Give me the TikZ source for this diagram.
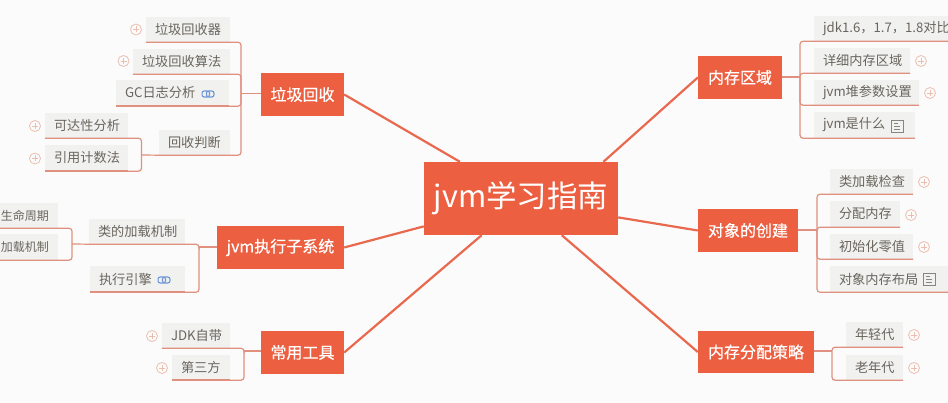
\documentclass[tikz,border=0pt]{standalone}
\usepackage{fontspec}
\setmainfont{Noto Sans CJK SC}
\newfontfamily\limbfont[FakeBold=0.5]{Noto Sans CJK SC}
\definecolor{paper}{HTML}{FBFBFB}
\definecolor{hot}{HTML}{EC5F40}
\definecolor{limb}{HTML}{E9694F}
\definecolor{twigc}{HTML}{E0907E}
\definecolor{leaff}{HTML}{F1F1F0}
\definecolor{inkc}{HTML}{6A665E}
\definecolor{plusc}{HTML}{EBBFAF}
\definecolor{linkc}{HTML}{6F97D8}
\tikzset{
  x=1pt,y=-1pt,
  rootbox/.style={fill=hot,text=white,font=\fontsize{30.5}{32}\selectfont,inner sep=0pt,minimum width=194pt,minimum height=73pt},
  limbbox/.style={fill=hot,text=white,font=\limbfont\fontsize{16}{18}\selectfont,inner sep=0pt},
  leafbox/.style={fill=leaff,text=inkc,font=\fontsize{13.2}{15}\selectfont,inner sep=0pt,align=left},
  limbline/.style={draw=limb,line width=2.2pt},
  twig/.style={draw=twigc,line width=1.2pt,rounded corners=3pt},
  twigthick/.style={twig,line width=1.8pt},
  plusmark/.style={circle,draw=plusc,line width=.8pt,inner sep=0pt,minimum size=11pt,
    path picture={\draw[plusc,line width=.7pt] ([xshift=-3pt]path picture bounding box.center) -- ([xshift=3pt]path picture bounding box.center);
      \draw[plusc,line width=.7pt] ([yshift=-3pt]path picture bounding box.center) -- ([yshift=3pt]path picture bounding box.center);}},
  linkmark/.style={inner sep=0pt,minimum width=13pt,minimum height=8pt,
    path picture={\draw[linkc,line width=1.1pt,rounded corners=2.2pt] ([xshift=-6pt,yshift=-3pt]path picture bounding box.center) rectangle ([xshift=1.5pt,yshift=3pt]path picture bounding box.center);
      \draw[linkc,line width=1.1pt,rounded corners=2.2pt] ([xshift=-1.5pt,yshift=-3pt]path picture bounding box.center) rectangle ([xshift=6pt,yshift=3pt]path picture bounding box.center);}},
  docmark/.style={draw=inkc!80,line width=.9pt,inner sep=0pt,minimum size=12pt,
    path picture={\draw[inkc!80,line width=.8pt] ([xshift=-3pt,yshift=3pt]path picture bounding box.center) -- ([xshift=1pt,yshift=3pt]path picture bounding box.center);
      \draw[inkc!80,line width=.8pt] ([xshift=-3pt]path picture bounding box.center) -- ([xshift=3pt]path picture bounding box.center);
      \draw[inkc!80,line width=.8pt] ([xshift=-3pt,yshift=-3pt]path picture bounding box.center) -- ([xshift=3pt,yshift=-3pt]path picture bounding box.center);}}
}
% #1 extra keys, #2 name, #3 x1, #4 y1, #5 x2, #6 y2, #7 text
\newcommand{\leafnode}[7][]{%
  \pgfmathsetmacro{\lw}{#5-#3}\pgfmathsetmacro{\lh}{#6-#4}\pgfmathsetmacro{\tw}{#5-#3-18}%
  \pgfmathsetmacro{\lcx}{(#5+#3)/2}\pgfmathsetmacro{\lcy}{(#6+#4)/2}%
  \node[leafbox,minimum width=\lw pt,minimum height=\lh pt,text width=\tw pt,#1] (#2) at (\lcx,\lcy) {#7};}
\newcommand{\limbnode}[6]{%
  \pgfmathsetmacro{\lw}{#4-#2}\pgfmathsetmacro{\lh}{#5-#3}%
  \pgfmathsetmacro{\lcx}{(#4+#2)/2}\pgfmathsetmacro{\lcy}{(#5+#3)/2}%
  \node[limbbox,minimum width=\lw pt,minimum height=\lh pt] (#1) at (\lcx,\lcy) {#6};}
\begin{document}
\begin{tikzpicture}
\fill[paper] (0,0) rectangle (948,403);
\useasboundingbox (0,0) rectangle (948,403);
\clip (0,0) rectangle (948,403);

\node[rootbox] (root) at (521,198.5) {jvm学习指南};
\limbnode{gc}{261}{73}{344}{116}{垃圾回收}
\limbnode{exec}{217}{226}{344}{269}{jvm执行子系统}
\limbnode{tools}{261}{331}{344}{374}{常用工具}
\limbnode{mem}{698}{56}{782}{99}{内存区域}
\limbnode{obj}{698}{209}{798}{252}{对象的创建}
\limbnode{alloc}{698}{331}{814}{373}{内存分配策略}

\draw[limbline] (root.149) -- (gc.east);
\draw[limbline] (root.196) -- (exec.east);
\draw[limbline] (root.223) -- (tools.east);
\draw[limbline] (root.24) -- (mem.west);
\draw[limbline] (root.-11) -- (obj.west);
\draw[limbline] (root.-42) -- (alloc.west);

% left top
\leafnode{a1}{146}{17}{230}{42}{垃圾回收器}
\leafnode{a2}{133}{49}{230}{74}{垃圾回收算法}
\leafnode{a3}{116}{80}{229}{106}{GC日志分析}
\leafnode{a4}{159}{130}{230}{155}{回收判断}
\leafnode{a5}{45}{113}{128}{138}{可达性分析}
\leafnode{a6}{45}{145}{128}{171}{引用计数法}
\node[plusmark] (pa1) at (136,29.5) {};
\node[plusmark] (pa2) at (123.5,61) {};
\node[plusmark] (pa5) at (35,126) {};
\node[plusmark] (pa6) at (35,158.5) {};
\node[linkmark] (ia3) at (208,94) {};
\coordinate (ja) at (241,93.5);
\coordinate (jb) at (141.5,155);
\draw[limbline,draw=twigc,line width=1.4pt] (gc.west |- ja) -- (ja);
\draw[twig] (a1.south west) -- (a1.south east) -- (a1.south east -| ja) -- (ja);
\draw[twig] (a2.south west) -- (a2.south east) -- (a2.south east -| ja) -- (ja);
\draw[twigthick] (a3.south west) -- (a3.south east);
\draw[twig] (a3.south east) -- (a3.south east -| ja) -- (ja);
\draw[twig] (a4.south west) -- (a4.south east) -- (a4.south east -| ja) -- (ja);
\draw[twig] (a5.south west) -- (a5.south east) -- (a5.south east -| jb) -- (jb);
\draw[twigthick] (a6.south west) -- (a6.south east);
\draw[twig] (a6.south east) -- (a6.south east -| jb) -- (jb);
\draw[twig] (jb) -- (a4.south west);

% left middle
\leafnode[align=center,text width=48pt,font=\fontsize{12}{15}\selectfont]{b1}{-8}{203}{58}{228}{生命周期}
\leafnode[align=center,text width=48pt,font=\fontsize{12}{15}\selectfont]{b2}{-8}{234}{58}{260}{加载机制}
\leafnode{b3}{89}{219}{185}{244}{类的加载机制}
\leafnode{b4}{90}{266}{185}{292}{执行引擎}
\node[linkmark] (ib4) at (164,280) {};
\coordinate (jc) at (199,247);
\coordinate (jd) at (72,244);
\draw[twig,line width=1.4pt] (exec.west |- jc) -- (jc);
\draw[twig] (b3.south west) -- (b3.south east) -- (b3.south east -| jc) -- (jc);
\draw[twigthick] (b4.south west) -- (b4.south east);
\draw[twig] (b4.south east) -- (b4.south east -| jc) -- (jc);
\draw[twig] (b1.south west) -- (b1.south east) -- (b1.south east -| jd) -- (jd);
\draw[twig] (b2.south west) -- (b2.south east) -- (b2.south east -| jd) -- (jd);
\draw[twig] (jd) -- (b3.south west);

% left bottom
\leafnode{c1}{162}{323}{230}{348}{JDK自带}
\leafnode{c2}{172}{355}{230}{380}{第三方}
\node[plusmark] (pc1) at (152,336) {};
\node[plusmark] (pc2) at (162,368) {};
\coordinate (je) at (244,351);
\draw[twig,line width=1.4pt] (tools.west |- je) -- (je);
\draw[twig] (c1.south west) -- (c1.south east) -- (c1.south east -| je) -- (je);
\draw[twigthick] (c2.south west) -- (c2.south east);
\draw[twig] (c2.south east) -- (c2.south east -| je) -- (je);

% right top
\leafnode{d1}{814}{16}{960}{41}{jdk1.6，1.7，1.8对比}
\leafnode{d2}{814}{48}{910}{73}{详细内存区域}
\leafnode{d3}{814}{80}{919}{105}{jvm堆参数设置}
\leafnode{d4}{814}{112}{915}{138}{jvm是什么}
\node[plusmark] (pd2) at (921,61) {};
\node[plusmark] (pd3) at (930,93) {};
\node[docmark] (id4) at (897,126) {};
\coordinate (jf) at (800,77);
\draw[twig,line width=1.4pt] (mem.east |- jf) -- (jf);
\draw[twig] (d1.south east) -- (d1.south west) -- (d1.south west -| jf) -- (jf);
\draw[twig] (d2.south east) -- (d2.south west) -- (d2.south west -| jf) -- (jf);
\draw[twig] (d3.south east) -- (d3.south west) -- (d3.south west -| jf) -- (jf);
\draw[twig] (d4.south east) -- (d4.south west) -- (d4.south west -| jf) -- (jf);

% right middle
\leafnode{e1}{830}{169}{913}{194}{类加载检查}
\leafnode{e2}{830}{201}{900}{227}{分配内存}
\leafnode{e3}{830}{234}{913}{259}{初始化零值}
\leafnode{e4}{830}{266}{955}{292}{对象内存布局}
\node[plusmark] (pe1) at (924,182) {};
\node[plusmark] (pe2) at (911,215) {};
\node[plusmark] (pe3) at (924,247) {};
\node[docmark] (ie4) at (929,279) {};
\coordinate (jg) at (817,230);
\draw[twig,line width=1.4pt] (obj.east |- jg) -- (jg);
\draw[twig] (e1.south east) -- (e1.south west) -- (e1.south west -| jg) -- (jg);
\draw[twig] (e2.south east) -- (e2.south west) -- (e2.south west -| jg) -- (jg);
\draw[twig] (e3.south east) -- (e3.south west) -- (e3.south west -| jg) -- (jg);
\draw[twig] (e4.south east) -- (e4.south west) -- (e4.south west -| jg) -- (jg);

% right bottom
\leafnode{f1}{846}{322}{903}{347}{年轻代}
\leafnode{f2}{846}{355}{903}{380}{老年代}
\node[plusmark] (pf1) at (914,335) {};
\node[plusmark] (pf2) at (914,368) {};
\coordinate (jh) at (832,351);
\draw[twig,line width=1.4pt] (alloc.east |- jh) -- (jh);
\draw[twig] (f1.south east) -- (f1.south west) -- (f1.south west -| jh) -- (jh);
\draw[twig] (f2.south east) -- (f2.south west) -- (f2.south west -| jh) -- (jh);
\end{tikzpicture}
\end{document}
